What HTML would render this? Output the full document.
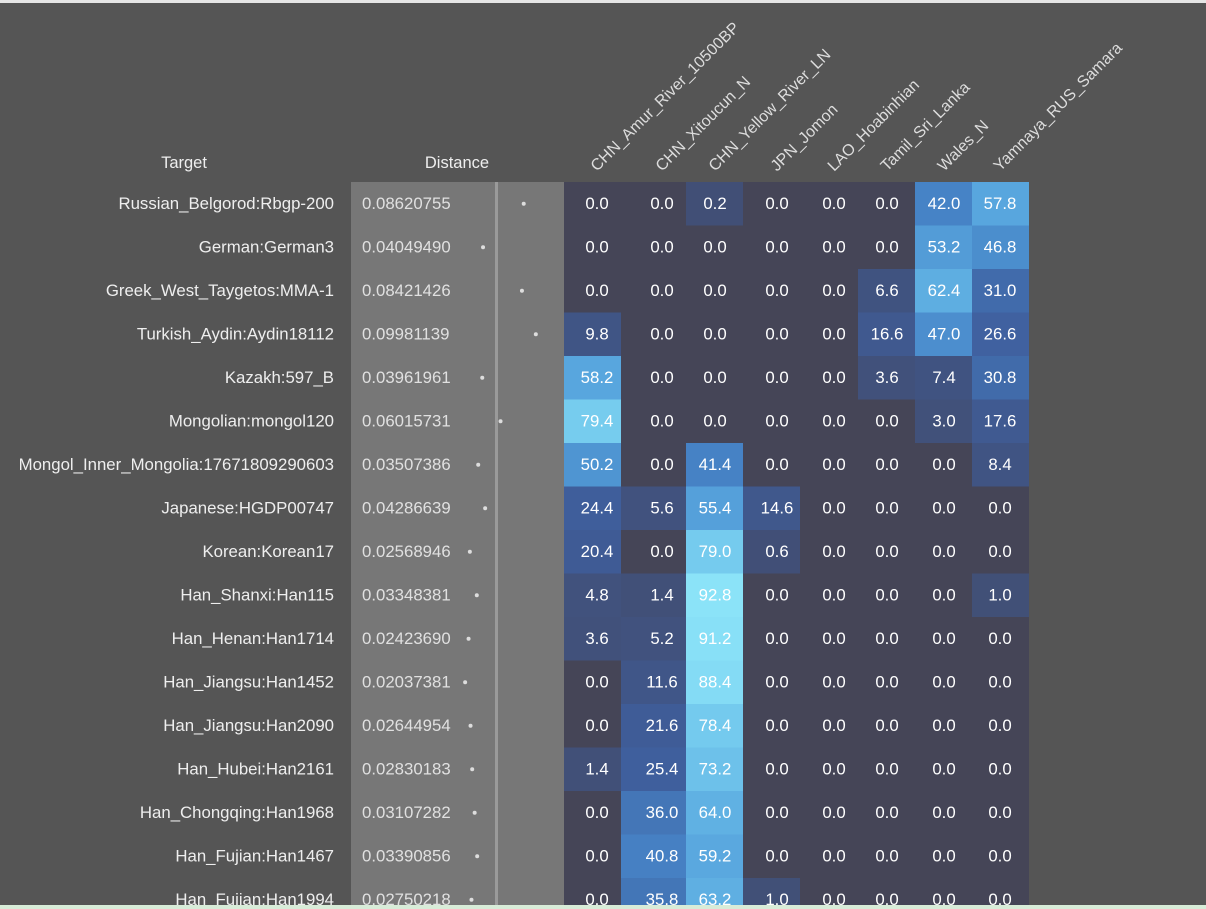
<!DOCTYPE html>
<html><head><meta charset="utf-8"><style>
html,body{margin:0;padding:0;background:#555555;width:1206px;height:909px;overflow:hidden;font-family:"Liberation Sans",sans-serif}
svg text{font-family:"Liberation Sans",sans-serif}
</style></head><body>
<svg id="chart" width="1206" height="909">
<rect x="0" y="0" width="1206" height="3" fill="#e6e6e6"/>
<rect x="351" y="182" width="144" height="724" fill="#777777"/>
<rect x="495" y="182" width="3" height="724" fill="#9a9a9a"/>
<rect x="498" y="182" width="66" height="724" fill="#777777"/>
<text x="184" y="168" fill="#eeeeee" font-size="16.5" text-anchor="middle">Target</text>
<text x="457" y="168" fill="#eeeeee" font-size="16.5" text-anchor="middle">Distance</text>
<g id="cells"></g>
<rect x="0" y="905" width="1206" height="4" fill="#d8ecd8"/>
</svg>
<script>
const targets=["Russian_Belgorod:Rbgp-200","German:German3","Greek_West_Taygetos:MMA-1","Turkish_Aydin:Aydin18112","Kazakh:597_B","Mongolian:mongol120","Mongol_Inner_Mongolia:17671809290603","Japanese:HGDP00747","Korean:Korean17","Han_Shanxi:Han115","Han_Henan:Han1714","Han_Jiangsu:Han1452","Han_Jiangsu:Han2090","Han_Hubei:Han2161","Han_Chongqing:Han1968","Han_Fujian:Han1467","Han_Fujian:Han1994"];
const distances=["0.08620755","0.04049490","0.08421426","0.09981139","0.03961961","0.06015731","0.03507386","0.04286639","0.02568946","0.03348381","0.02423690","0.02037381","0.02644954","0.02830183","0.03107282","0.03390856","0.02750218"];
const sources=["CHN_Amur_River_10500BP","CHN_Xitoucun_N","CHN_Yellow_River_LN","JPN_Jomon","LAO_Hoabinhian","Tamil_Sri_Lanka","Wales_N","Yamnaya_RUS_Samara"];
const values=[
[0,0,0.2,0,0,0,42.0,57.8],
[0,0,0,0,0,0,53.2,46.8],
[0,0,0,0,0,6.6,62.4,31.0],
[9.8,0,0,0,0,16.6,47.0,26.6],
[58.2,0,0,0,0,3.6,7.4,30.8],
[79.4,0,0,0,0,0,3.0,17.6],
[50.2,0,41.4,0,0,0,0,8.4],
[24.4,5.6,55.4,14.6,0,0,0,0],
[20.4,0,79.0,0.6,0,0,0,0],
[4.8,1.4,92.8,0,0,0,0,1.0],
[3.6,5.2,91.2,0,0,0,0,0],
[0,11.6,88.4,0,0,0,0,0],
[0,21.6,78.4,0,0,0,0,0],
[1.4,25.4,73.2,0,0,0,0,0],
[0,36.0,64.0,0,0,0,0,0],
[0,40.8,59.2,0,0,0,0,0],
[0,35.8,63.2,1.0,0,0,0,0]];
const colEdges=[564,621,686,743,800,858,915,972,1029];
const textX=[597,662,715,777,834,887,944,1000];
const rowTop=182,rowH=43.5;
const stops=[[0.1,[65,79,118]],[25,[63,94,156]],[42,[70,131,198]],[58,[88,166,222]],[79,[117,203,238]],[93,[139,227,248]]];
function color(v){
 if(v<=0)return "#454557";
 if(v<=stops[0][0])return "rgb("+stops[0][1]+")";
 for(let i=1;i<stops.length;i++){if(v<=stops[i][0]){const a=stops[i-1],b=stops[i];const t=(v-a[0])/(b[0]-a[0]);return "rgb("+a[1].map((c,k)=>Math.round(c+(b[1][k]-c)*t)).join(",")+")";}}
 return "rgb("+stops[stops.length-1][1]+")";
}
const dx=d=>447+890*d;
const NS="http://www.w3.org/2000/svg";
const g=document.getElementById("cells");
function mk(tag,attrs,txt){const e=document.createElementNS(NS,tag);for(const k in attrs)e.setAttribute(k,attrs[k]);if(txt!==undefined)e.textContent=txt;g.appendChild(e);return e;}
sources.forEach((s,j)=>{
 const x=textX[j],y=172;
 const t=mk("text",{x:x,y:y,fill:"#dddddd","font-size":"16",transform:"rotate(-45 "+x+" "+y+")"},s);
 
 
});
targets.forEach((name,i)=>{
 const y0=rowTop+i*rowH,cy=y0+rowH/2+5;
 const lab=mk("text",{x:334,y:cy,fill:"#eeeeee","font-size":"16.8","text-anchor":"end"},name);
 
 
 const dt=mk("text",{x:362,y:cy,fill:"#e0e0e0","font-size":"16.8"},distances[i]);
 
 
 const dot=mk("circle",{cx:dx(parseFloat(distances[i])),cy:y0+rowH/2,r:2,fill:"#dddddd"});
 
 
 values[i].forEach((v,j)=>{
  const r=mk("rect",{x:colEdges[j],y:y0,width:colEdges[j+1]-colEdges[j],height:rowH+0.5,fill:color(v)});
  
  
  const t=mk("text",{x:textX[j],y:cy,fill:"#ffffff","font-size":"16.8","text-anchor":"middle"},v.toFixed(1));
  
  
 });
});
</script>
</body></html>
